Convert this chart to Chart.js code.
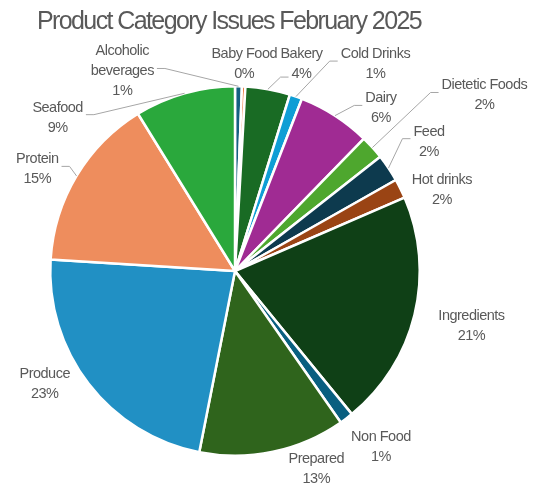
<!DOCTYPE html>
<html>
<head>
<meta charset="utf-8">
<script src="https://cdn.jsdelivr.net/npm/chart.js@4"></script>
<style>
  body { margin: 0; background: #fff; }
  #issuesChart { display: block; }
</style>
</head>
<body>
<canvas id="issuesChart" width="539" height="489"></canvas>
<script>
const chartTitle = "Product Category Issues February 2025";

const categories = [
    "Alcoholic beverages", "Baby Food", "Bakery", "Cold Drinks", "Dairy",
    "Dietetic Foods", "Feed", "Hot drinks", "Ingredients", "Non Food",
    "Prepared", "Produce", "Protein", "Seafood"
];

// share of issues per category, in percent
const issueShare = [0.6, 0.3, 3.9, 1.1, 6.4, 2.1, 2.4, 1.7, 20.6, 1.2, 12.8, 22.9, 15.2, 8.8];

const sliceColors = [
    "#156082", "#e97132", "#196b24", "#0f9ed5", "#a02b93", "#4ea72e", "#0d3a4e",
    "#9a4414", "#0f4016", "#095f80", "#2f641c", "#2190c4", "#ee8d5d", "#2aa83c"
];

// how each category name wraps onto lines
const labelLines = [
    ["Alcoholic", "beverages"], ["Baby Food"], ["Bakery"], ["Cold Drinks"], ["Dairy"],
    ["Dietetic Foods"], ["Feed"], ["Hot drinks"], ["Ingredients"], ["Non Food"],
    ["Prepared"], ["Produce"], ["Protein"], ["Seafood"]
];

// label centres relative to the pie centre, in units of the radius
const labelSpots = [
    [-0.61, -1.08], [0.05, -1.12], [0.36, -1.12], [0.76, -1.12], [0.79, -0.88],
    [1.35, -0.95], [1.05, -0.70], [1.12, -0.44], [1.28, 0.30], [0.79, 0.95],
    [0.44, 1.07], [-1.03, 0.61], [-1.07, -0.55], [-0.96, -0.83]
];
const withLeader = [true, false, true, true, true, true, true, false, false, false, false, false, true, true];

const total = issueShare.reduce((a, b) => a + b, 0);

const textColor = "#595959";
const labelFont = '14.5px "Liberation Sans", Arial, sans-serif';
const lineHeight = 20;

const titlePlugin = {
    id: "plainTitle",
    afterDraw(chart) {
        const ctx = chart.ctx;
        ctx.save();
        ctx.font = '25px "Liberation Sans", Arial, sans-serif';
        ctx.letterSpacing = "-1.6px";
        ctx.fillStyle = textColor;
        ctx.textAlign = "center";
        ctx.textBaseline = "alphabetic";
        ctx.fillText(chartTitle, 229, 29);
        ctx.restore();
    }
};

const outsideLabels = {
    id: "outsideLabels",
    afterDatasetsDraw(chart) {
        const ctx = chart.ctx;
        const arcs = chart.getDatasetMeta(0).data;
        ctx.save();
        ctx.font = labelFont;
        ctx.letterSpacing = "-0.5px";
        ctx.fillStyle = textColor;
        ctx.textAlign = "center";
        ctx.textBaseline = "middle";

        arcs.forEach((arc, i) => {
            const p = arc.getProps(["x", "y", "startAngle", "endAngle", "outerRadius"], true);
            const r = p.outerRadius;
            const mid = (p.startAngle + p.endAngle) / 2;
            const ax = p.x + Math.cos(mid) * r;
            const ay = p.y + Math.sin(mid) * r;

            const pct = Math.round(issueShare[i] / total * 100) + "%";
            const lines = labelLines[i].concat([pct]);
            const cx = p.x + labelSpots[i][0] * r;
            const cy = p.y + labelSpots[i][1] * r;
            const h = lines.length * lineHeight;
            const top = cy - h / 2;

            let w = 0;
            lines.forEach(t => { w = Math.max(w, ctx.measureText(t).width); });
            lines.forEach((t, k) => ctx.fillText(t, cx, top + lineHeight * (k + 0.5)));

            if (!withLeader[i]) return;

            // leader from the label edge to the middle of the slice rim
            const box = { x0: cx - w / 2 - 3, x1: cx + w / 2 + 3, y0: top, y1: top + h };
            let sx, sy, ex;
            const farSide = ax < box.x0 - 20 || ax > box.x1 + 20;
            if (ay > box.y1 && !farSide) {
                const last = ctx.measureText(pct).width;
                sy = box.y1 - lineHeight / 2 + 3;
                sx = ax < cx ? cx - last / 2 - 3 : cx + last / 2 + 3;
                ex = ax < cx ? sx - 8 : sx + 8;
            } else {
                sy = cy - 3;
                sx = ax < cx ? box.x0 : box.x1;
                ex = ax < cx ? sx - 8 : sx + 8;
            }
            ctx.beginPath();
            ctx.strokeStyle = "#a6a6a6";
            ctx.lineWidth = 1;
            ctx.moveTo(sx, sy);
            ctx.lineTo(ex, sy);
            ctx.lineTo(ax, ay);
            ctx.stroke();
        });
        ctx.restore();
    }
};

new Chart(document.getElementById("issuesChart").getContext("2d"), {
    type: "pie",
    data: {
        labels: categories,
        datasets: [{
            data: issueShare,
            backgroundColor: sliceColors,
            borderColor: "#ffffff",
            borderWidth: 2.5
        }]
    },
    options: {
        responsive: false,
        animation: false,
        devicePixelRatio: 1,
        layout: { padding: { top: 85, bottom: 32, left: 30, right: 99 } },
        plugins: {
            legend: { display: false },
            tooltip: { enabled: false },
            title: { display: false }
        }
    },
    plugins: [titlePlugin, outsideLabels]
});
</script>
</body>
</html>
